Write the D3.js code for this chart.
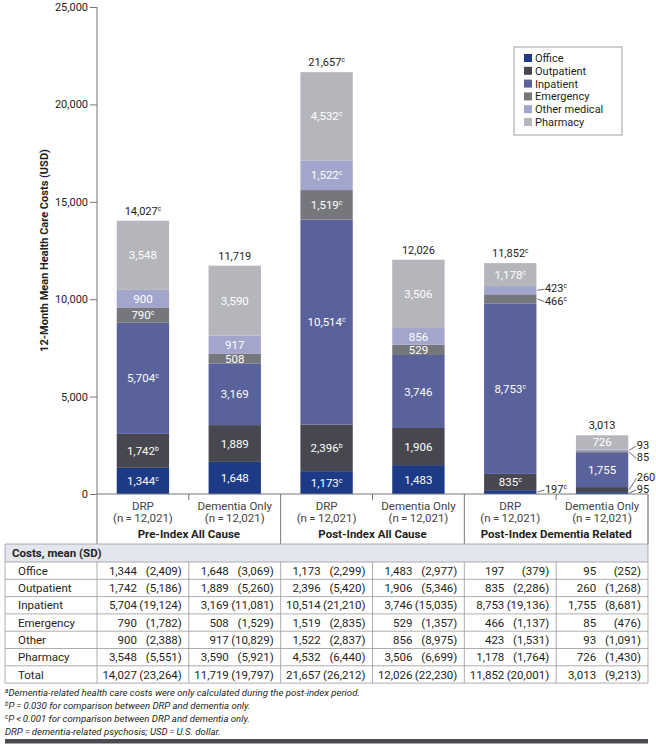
<!DOCTYPE html>
<html>
<head>
<meta charset="utf-8">
<script src="https://d3js.org/d3.v7.min.js"></script>
<style>
  body { margin: 0; background: #fff; }
  text { font-family: Roboto, "Noto Sans", sans-serif; fill: #231f20; }
</style>
</head>
<body>
<script>
  // bar ids, labels and groups
  var bars = ["preDRP", "preDem", "postDRP", "postDem", "relDRP", "relDem"];
  var barNames = ["DRP", "Dementia Only", "DRP", "Dementia Only", "DRP", "Dementia Only"];
  var barN = ["(n\u2009=\u200912,021)", "(n\u2009=\u200912,021)", "(n\u2009=\u200912,021)", "(n\u2009=\u200912,021)", "(n\u2009=\u200912,021)", "(n\u2009=\u200912,021)"];
  var groups = ["Pre-Index All Cause", "Post-Index All Cause", "Post-Index Dementia Related"];

  var categories = ["Office", "Outpatient", "Inpatient", "Emergency", "Other medical", "Pharmacy"];
  var rowNames = ["Office", "Outpatient", "Inpatient", "Emergency", "Other", "Pharmacy", "Total"];
  var colors = ["#1d3a86", "#47484f", "#5a629b", "#76777d", "#a2a6cc", "#b4b6bb"];

  // mean costs per bar
  var office = [1344, 1648, 1173, 1483, 197, 95];
  var outpatient = [1742, 1889, 2396, 1906, 835, 260];
  var inpatient = [5704, 3169, 10514, 3746, 8753, 1755];
  var emergency = [790, 508, 1519, 529, 466, 85];
  var otherMedical = [900, 917, 1522, 856, 423, 93];
  var pharmacy = [3548, 3590, 4532, 3506, 1178, 726];
  var totals = [14027, 11719, 21657, 12026, 11852, 3013];

  // standard deviations
  var officeSD = [2409, 3069, 2299, 2977, 379, 252];
  var outpatientSD = [5186, 5260, 5420, 5346, 2286, 1268];
  var inpatientSD = [19124, 11081, 21210, 15035, 19136, 8681];
  var emergencySD = [1782, 1529, 2835, 1357, 1137, 476];
  var otherSD = [2388, 10829, 2837, 8975, 1531, 1091];
  var pharmacySD = [5551, 5921, 6440, 6699, 1764, 1430];
  var totalSD = [23264, 19797, 26212, 22230, 20001, 9213];

  // significance superscripts
  var officeSup = ["c", "", "c", "", "c", ""];
  var outpatientSup = ["b", "", "b", "", "c", ""];
  var inpatientSup = ["c", "", "c", "", "c", ""];
  var emergencySup = ["c", "", "c", "", "c", ""];
  var otherSup = ["", "", "c", "", "c", ""];
  var pharmacySup = ["", "", "c", "", "c", ""];
  var totalSup = ["c", "", "c", "", "c", ""];

  var yTicks = [0, 5000, 10000, 15000, 20000, 25000];

  var footnotes = [
    ["a", "Dementia-related health care costs were only calculated during the post-index period."],
    ["b", "P\u2009=\u20090.030 for comparison between DRP and dementia only."],
    ["c", "P\u2009<\u20090.001 for comparison between DRP and dementia only."],
    ["", "DRP\u2009=\u2009dementia-related psychosis; USD\u2009=\u2009U.S. dollar."]
  ];

  var seriesVals = [office, outpatient, inpatient, emergency, otherMedical, pharmacy];
  var seriesSups = [officeSup, outpatientSup, inpatientSup, emergencySup, otherSup, pharmacySup];
  var tableVals = [office, outpatient, inpatient, emergency, otherMedical, pharmacy, totals];
  var tableSDs = [officeSD, outpatientSD, inpatientSD, emergencySD, otherSD, pharmacySD, totalSD];

  var W = 656, H = 745;
  var svg = d3.select("body").append("svg").attr("width", W).attr("height", H);

  var plotLeft = 97, plotRight = 648, plotTop = 7, base = 494;
  var tableTop = 544, rowH = 17.3;
  var fs = 11.5;
  var fmt = d3.format(",");

  var x = d3.scaleBand().domain(bars).range([plotLeft, plotRight]).paddingInner(0.43).paddingOuter(0.215);
  var y = d3.scaleLinear().domain([0, 25000]).range([base, plotTop]);
  var step = x.step();
  var colLeft = function(i) { return plotLeft + i * step; };

  // stacked data
  var table = bars.map(function(b, i) {
    var row = { id: b };
    categories.forEach(function(c, j) { row[c] = seriesVals[j][i]; });
    return row;
  });
  var stacked = d3.stack().keys(categories)(table);

  // y axis
  var yAxis = svg.append("g").attr("transform", "translate(" + plotLeft + ",0)")
    .call(d3.axisLeft(y).tickValues(yTicks).tickFormat(fmt).tickSize(7).tickPadding(2));
  yAxis.select(".domain").remove();
  yAxis.selectAll("line").attr("stroke", "#777");
  yAxis.selectAll("text").style("font-family", "Roboto, sans-serif").style("font-size", "11px").attr("fill", "#231f20");
  svg.append("line").attr("x1", plotLeft).attr("x2", plotLeft).attr("y1", plotTop).attr("y2", tableTop)
    .attr("stroke", "#777");

  svg.append("text")
    .attr("transform", "translate(48," + ((plotTop + base) / 2) + ") rotate(-90)")
    .attr("text-anchor", "middle")
    .style("font-size", "11px").style("font-weight", "bold")
    .text("12-Month Mean Health Care Costs (USD)");

  // bars
  var layer = svg.selectAll(".layer").data(stacked).enter().append("g")
    .attr("fill", function(d, i) { return colors[i]; });
  layer.selectAll("rect").data(function(d) { return d; }).enter().append("rect")
    .attr("x", function(d) { return x(d.data.id); })
    .attr("width", x.bandwidth())
    .attr("y", function(d) { return y(d[1]); })
    .attr("height", function(d) { return y(d[0]) - y(d[1]); });

  function addLabel(sel, value, sup, size) {
    sel.append("tspan").text(fmt(value));
    if (sup) {
      sel.append("tspan").text(sup).attr("dy", -4).style("font-size", (size * 0.6) + "px");
    }
  }

  // segment labels
  var outside = bars.map(function() { return []; });
  stacked.forEach(function(s, j) {
    s.forEach(function(d, i) {
      var h = y(d[0]) - y(d[1]);
      var mid = (y(d[0]) + y(d[1])) / 2;
      if (h < 9.5) {
        outside[i].push({ j: j, mid: mid, pos: mid });
        return;
      }
      var t = svg.append("text")
        .attr("x", x(d.data.id) + x.bandwidth() / 2)
        .attr("y", mid)
        .attr("dy", "0.36em")
        .attr("text-anchor", "middle")
        .style("font-size", fs + "px")
        .style("fill", "#fff");
      addLabel(t, seriesVals[j][i], seriesSups[j][i], fs);
    });
  });

  // outside labels with leader lines
  var outFs = 11;
  outside.forEach(function(list, i) {
    if (!list.length) return;
    list.sort(function(a, b) { return a.mid - b.mid; });
    for (var k = 1; k < list.length; k++) {
      var gap = list[k].pos - list[k - 1].pos;
      if (gap < 12.5) {
        var c = (list[k].pos + list[k - 1].pos) / 2;
        list[k - 1].pos = c - 6.25;
        list[k].pos = c + 6.25;
      }
    }
    var maxPos = base - 5;
    for (k = list.length - 1; k >= 0; k--) {
      if (list[k].pos > maxPos) list[k].pos = maxPos;
      maxPos = list[k].pos - 11.5;
    }
    var bx = x(bars[i]) + x.bandwidth();
    list.forEach(function(o) {
      svg.append("line")
        .attr("x1", bx + 1).attr("y1", o.mid)
        .attr("x2", bx + 8).attr("y2", o.pos + 1)
        .attr("stroke", "#444").attr("stroke-width", 0.8);
      var t = svg.append("text")
        .attr("x", bx + 8.5).attr("y", o.pos)
        .attr("dy", "0.36em")
        .style("font-size", outFs + "px");
      addLabel(t, seriesVals[o.j][i], seriesSups[o.j][i], outFs);
    });
  });

  // totals above bars
  bars.forEach(function(b, i) {
    var t = svg.append("text")
      .attr("x", x(b) + x.bandwidth() / 2)
      .attr("y", y(totals[i]) - 6)
      .attr("text-anchor", "middle")
      .style("font-size", "11px");
    addLabel(t, totals[i], totalSup[i], 11);
  });

  // legend
  var lg = svg.append("g").attr("transform", "translate(514,47)");
  lg.append("rect").attr("width", 108).attr("height", 88)
    .attr("fill", "#fff").attr("stroke", "#888").attr("stroke-width", 0.8);
  categories.forEach(function(c, i) {
    var ly = 11 + i * 12.8;
    lg.append("rect").attr("x", 10).attr("y", ly - 4).attr("width", 8).attr("height", 8).attr("fill", colors[i]);
    lg.append("text").attr("x", 21).attr("y", ly).attr("dy", "0.36em")
      .style("font-size", "11px").text(c);
  });

  // x axis box
  svg.append("line").attr("x1", plotLeft).attr("x2", plotRight).attr("y1", base).attr("y2", base).attr("stroke", "#777");
  [1, 3, 5].forEach(function(i) {
    svg.append("line").attr("x1", colLeft(i)).attr("x2", colLeft(i)).attr("y1", base).attr("y2", base + 6).attr("stroke", "#777");
  });
  [2, 4, 6].forEach(function(i) {
    svg.append("line").attr("x1", colLeft(i)).attr("x2", colLeft(i)).attr("y1", base).attr("y2", tableTop).attr("stroke", "#777");
  });
  bars.forEach(function(b, i) {
    var cx = x(b) + x.bandwidth() / 2;
    svg.append("text").attr("x", cx).attr("y", 509.5).attr("text-anchor", "middle")
      .style("font-size", fs + "px").style("fill", "#444").text(barNames[i]);
    svg.append("text").attr("x", cx).attr("y", 522).attr("text-anchor", "middle")
      .style("font-size", fs + "px").style("fill", "#444").text(barN[i]);
  });
  groups.forEach(function(g, k) {
    svg.append("text").attr("x", colLeft(2 * k + 1)).attr("y", 538).attr("text-anchor", "middle")
      .style("font-size", fs + "px").style("font-weight", "bold").text(g);
  });

  // table
  var tLeft = 5;
  svg.append("rect").attr("x", tLeft).attr("y", tableTop).attr("width", plotRight - tLeft).attr("height", 18)
    .attr("fill", "#e3e6ef");
  svg.append("text").attr("x", 12).attr("y", tableTop + 9).attr("dy", "0.36em")
    .style("font-size", fs + "px").style("font-weight", "bold").text("Costs, mean (SD)");
  var rowsTop = tableTop + 18;
  var tableBottom = rowsTop + rowH * rowNames.length;
  for (var r = 0; r <= rowNames.length; r++) {
    svg.append("line").attr("x1", tLeft).attr("x2", plotRight)
      .attr("y1", rowsTop + r * rowH).attr("y2", rowsTop + r * rowH)
      .attr("stroke", "#999").attr("stroke-width", 0.8);
  }
  svg.append("line").attr("x1", tLeft).attr("x2", plotRight).attr("y1", tableTop).attr("y2", tableTop)
    .attr("stroke", "#999").attr("stroke-width", 0.8);
  svg.append("line").attr("x1", tLeft).attr("x2", tLeft).attr("y1", tableTop).attr("y2", tableBottom)
    .attr("stroke", "#999").attr("stroke-width", 0.8);
  svg.append("line").attr("x1", plotRight).attr("x2", plotRight).attr("y1", base).attr("y2", tableBottom)
    .attr("stroke", "#999").attr("stroke-width", 0.8);
  for (var c = 0; c < bars.length; c++) {
    svg.append("line").attr("x1", colLeft(c)).attr("x2", colLeft(c))
      .attr("y1", rowsTop).attr("y2", tableBottom)
      .attr("stroke", "#999").attr("stroke-width", 0.8);
  }
  rowNames.forEach(function(name, r) {
    var ry = rowsTop + r * rowH + rowH / 2;
    svg.append("text").attr("x", 18).attr("y", ry).attr("dy", "0.36em")
      .style("font-size", fs + "px").text(name);
    bars.forEach(function(b, i) {
      svg.append("text").attr("x", colLeft(i) + 40).attr("y", ry).attr("dy", "0.36em")
        .attr("text-anchor", "end").style("font-size", fs + "px").text(fmt(tableVals[r][i]));
      svg.append("text").attr("x", colLeft(i) + step - 7).attr("y", ry).attr("dy", "0.36em")
        .attr("text-anchor", "end").style("font-size", fs + "px").text("(" + fmt(tableSDs[r][i]) + ")");
    });
  });

  // footnotes
  footnotes.forEach(function(f, i) {
    var t = svg.append("text").attr("x", tLeft).attr("y", 696 + i * 13)
      .style("font-size", "9.6px").style("font-style", "italic");
    if (f[0]) t.append("tspan").text(f[0]).attr("dy", -3).style("font-size", "6.5px");
    t.append("tspan").text(f[1]).attr("dy", f[0] ? 3 : 0);
  });

  svg.append("rect").attr("x", tLeft).attr("y", 739).attr("width", plotRight - tLeft).attr("height", 4.5)
    .attr("fill", "#4a4a50");
</script>
</body>
</html>
